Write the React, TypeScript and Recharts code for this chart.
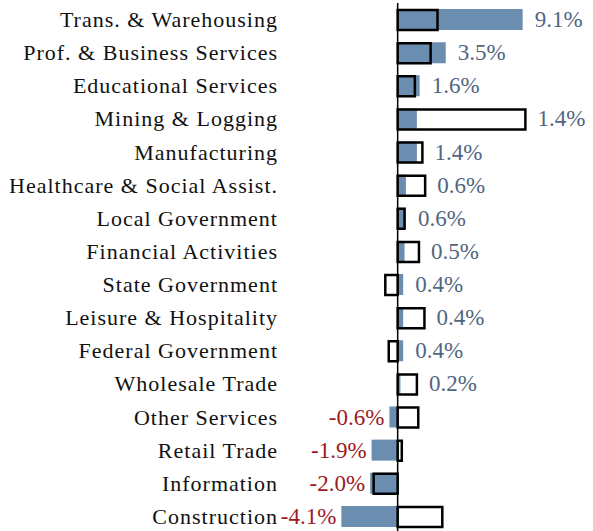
import React from 'react';
import { BarChart, Bar, XAxis, YAxis, ReferenceLine, LabelList } from 'recharts';

const categories = [
  'Trans. & Warehousing',
  'Prof. & Business Services',
  'Educational Services',
  'Mining & Logging',
  'Manufacturing',
  'Healthcare & Social Assist.',
  'Local Government',
  'Financial Activities',
  'State Government',
  'Leisure & Hospitality',
  'Federal Government',
  'Wholesale Trade',
  'Other Services',
  'Retail Trade',
  'Information',
  'Construction',
];

// filled bars (labelled values)
const currentGrowth = [9.1, 3.5, 1.6, 1.4, 1.4, 0.6, 0.6, 0.5, 0.4, 0.4, 0.4, 0.2, -0.6, -1.9, -2.0, -4.1];
// outlined bars
const priorGrowth = [2.9, 2.4, 1.25, 9.3, 1.8, 2.0, 0.5, 1.55, -0.9, 1.95, -0.65, 1.4, 1.5, 0.3, -1.75, 3.25];

const xDomain = [-5, 10];

const data = categories.map((name, i) => ({
  name,
  current: currentGrowth[i],
  prior: priorGrowth[i],
}));

const FONT = '"Liberation Serif", "Times New Roman", serif';

const CategoryTick = (props: any) => {
  const { y, payload } = props;
  return (
    <text
      x={278}
      y={y}
      textAnchor="end"
      dominantBaseline="central"
      fontFamily={FONT}
      fontSize={22}
      letterSpacing={1}
      fill="#111"
    >
      {payload.value}
    </text>
  );
};

const ValueLabel = (props: any) => {
  const { x, y, width, height, value, index } = props;
  const k = value !== 0 ? width / value : 0;
  const priorW = k * priorGrowth[index];
  const cy = y + height / 2;
  const label = `${Number(value).toFixed(1)}%`;
  if (value >= 0) {
    const end = x + Math.max(width, priorW, 0) + 12;
    return (
      <text x={end} y={cy} dominantBaseline="central" fontFamily={FONT} fontSize={23} fill="#51667f">
        {label}
      </text>
    );
  }
  const start = x + Math.min(width, priorW) - 5;
  return (
    <text x={start} y={cy} textAnchor="end" dominantBaseline="central" fontFamily={FONT} fontSize={23} fill="#9b1b1f">
      {label}
    </text>
  );
};

export default function App() {
  return (
    <div style={{ position: 'absolute', left: 0, top: 0, background: '#fff' }}>
      <BarChart
        width={593}
        height={533}
        data={data}
        layout="vertical"
        margin={{ top: 3, right: 58, bottom: 0, left: 0 }}
      >
        <XAxis type="number" domain={xDomain} hide allowDataOverflow />
        <YAxis
          yAxisId="a"
          type="category"
          dataKey="name"
          width={329}
          axisLine={false}
          tickLine={false}
          tick={<CategoryTick />}
          interval={0}
        />
        <YAxis yAxisId="b" type="category" dataKey="name" hide />
        <Bar yAxisId="a" dataKey="current" fill="#6a8db0" barSize={21} isAnimationActive={false}>
          <LabelList dataKey="current" content={<ValueLabel />} />
        </Bar>
        <Bar
          yAxisId="b"
          dataKey="prior"
          fill="none"
          stroke="#000"
          strokeWidth={2.5}
          barSize={20}
          isAnimationActive={false}
        />
        <ReferenceLine yAxisId="a" x={0} stroke="#000" strokeWidth={1.5} />
      </BarChart>
    </div>
  );
}
